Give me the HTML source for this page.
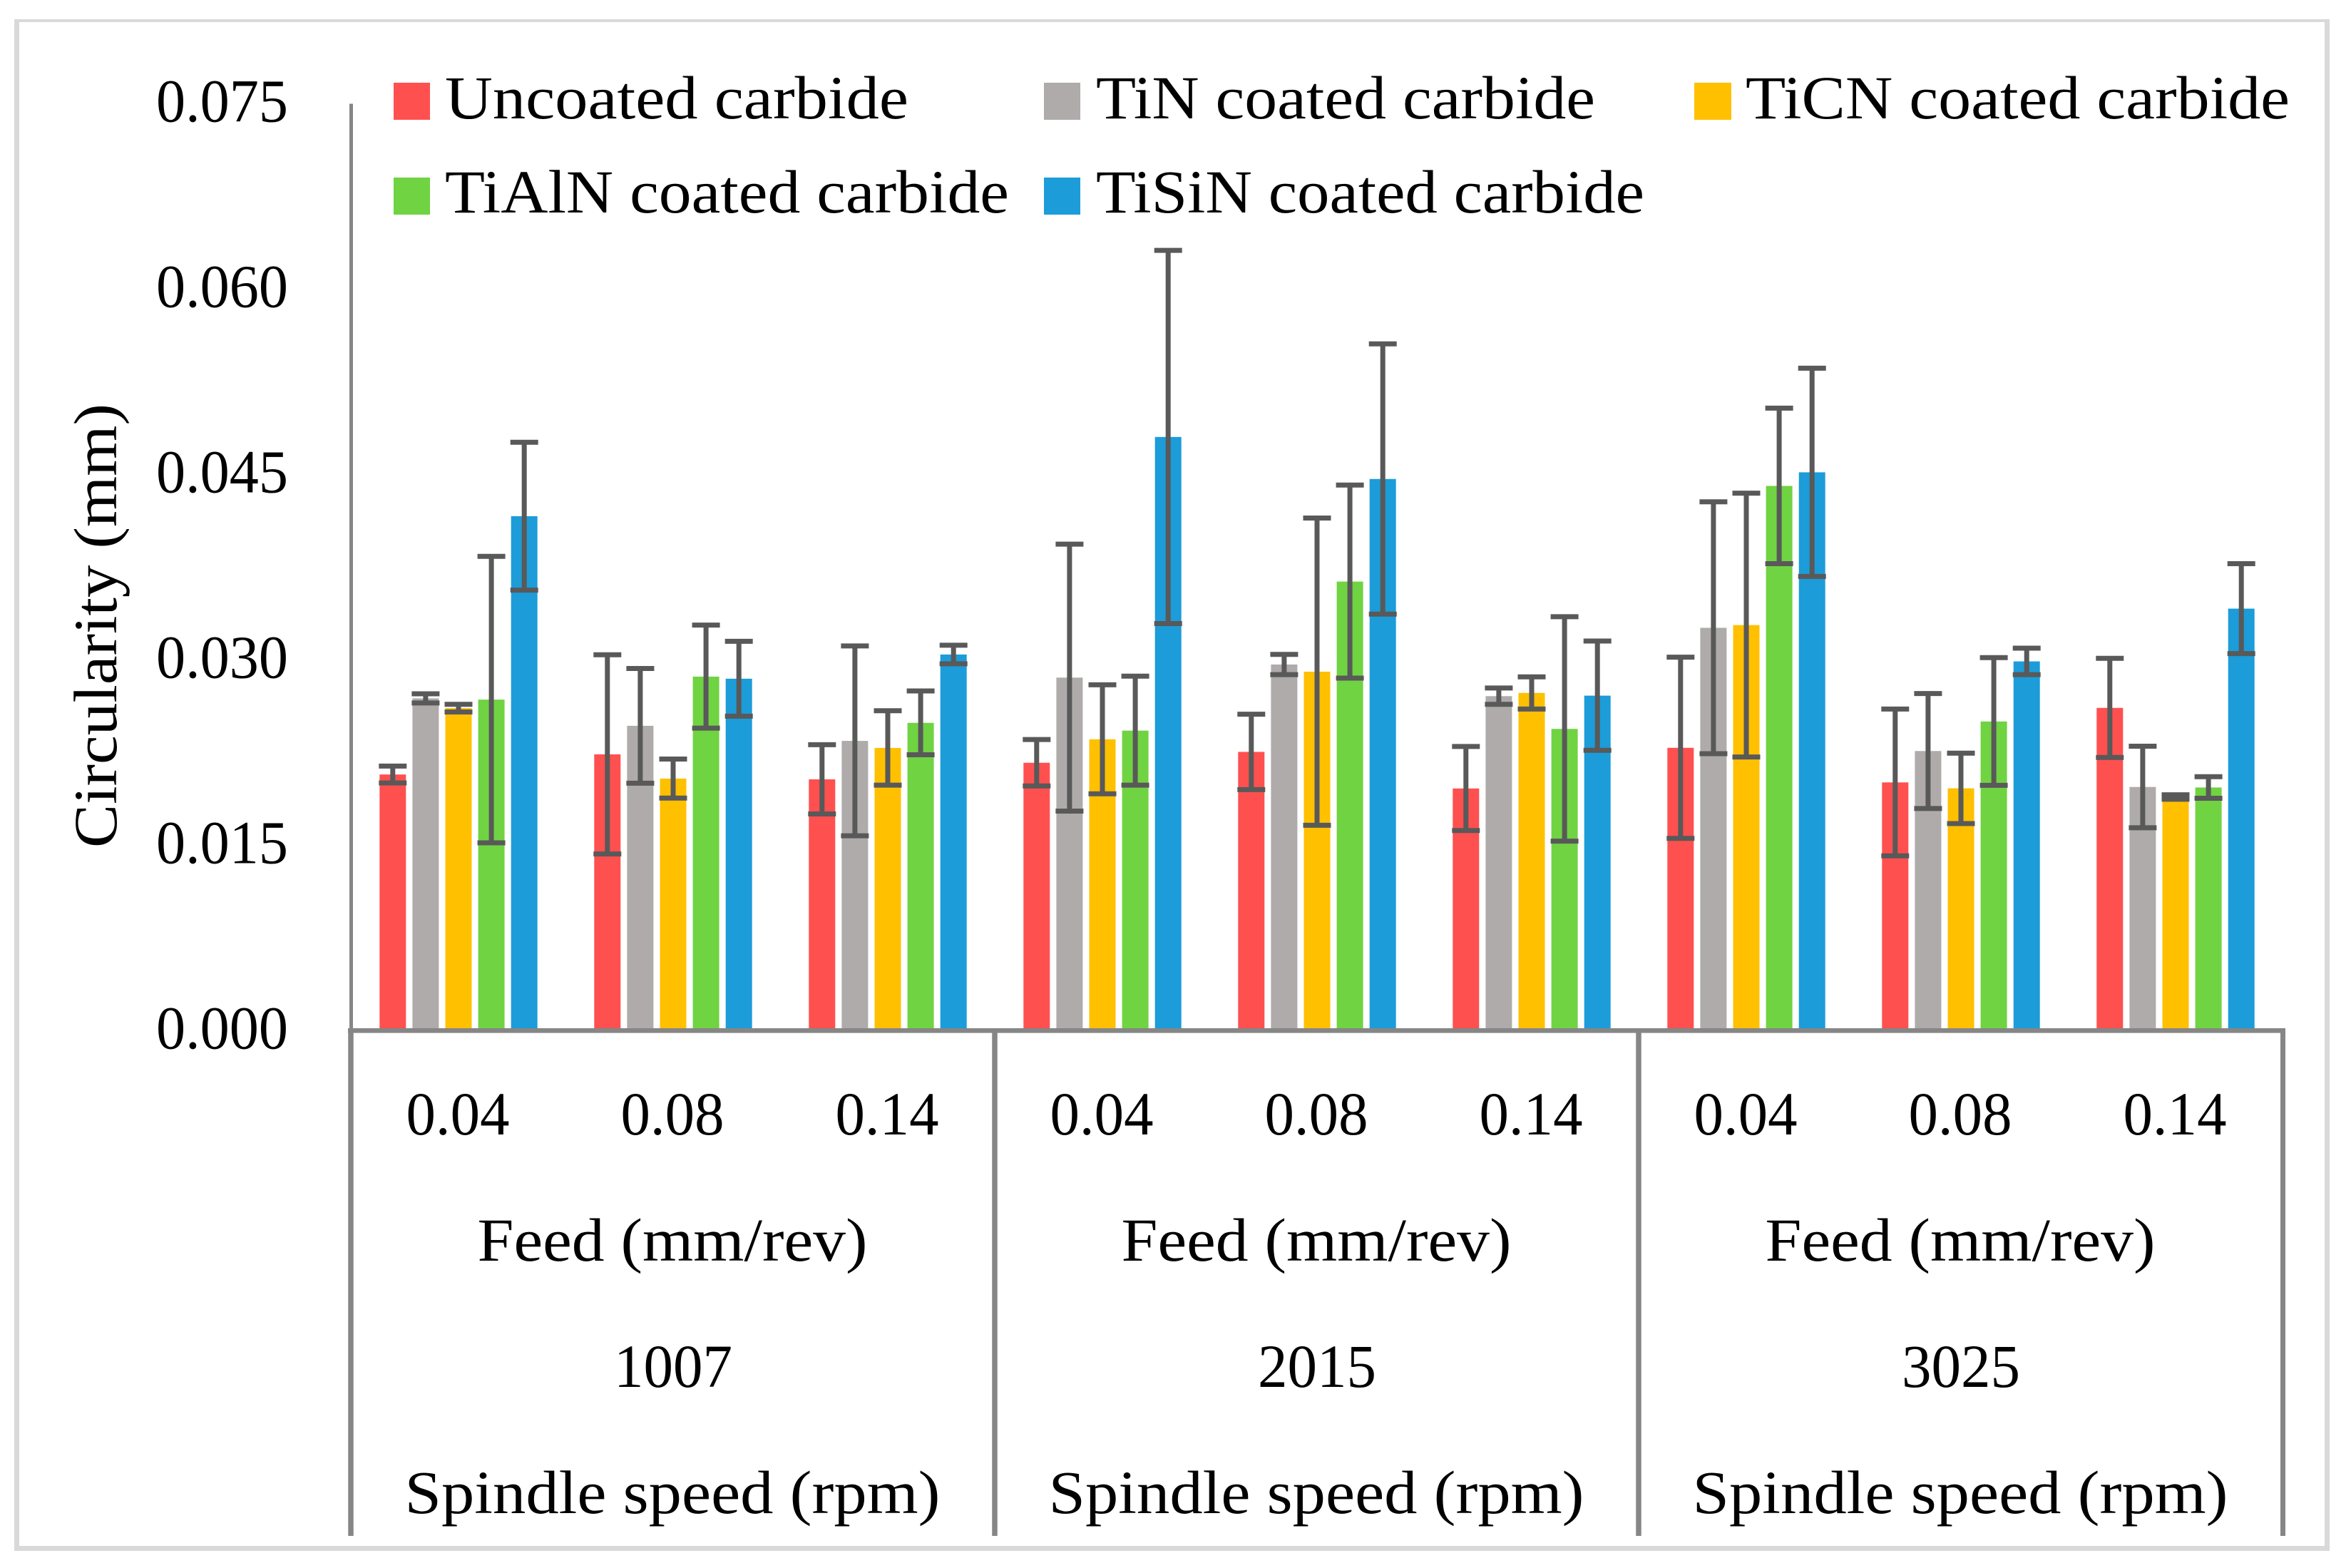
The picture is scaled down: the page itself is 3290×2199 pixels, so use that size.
<!DOCTYPE html>
<html lang="en">
<head>
<meta charset="utf-8">
<title>Circularity by coating, feed and spindle speed</title>
<style>
html,body{margin:0;padding:0;background:#fff;}
svg{display:block;}
text{font-family:"Liberation Serif",serif;fill:#000;font-size:86px;}
</style>
</head>
<body>
<svg id="chart" xmlns="http://www.w3.org/2000/svg" width="3290" height="2199" viewBox="0 0 3290 2199">
  <rect x="0" y="0" width="3290" height="2199" fill="#ffffff"/>
  <g fill="#d9d9d9">
    <rect x="20" y="27" width="7" height="2148"/>
    <rect x="3260" y="27" width="7" height="2148"/>
    <rect x="20" y="27" width="3247" height="4"/>
    <rect x="20" y="2168" width="3247" height="7"/>
  </g>
  <g id="bars"></g>
  <g id="errors"></g>
  <g id="axes"></g>
  <text transform="translate(163 1189) rotate(-90)" textLength="623" lengthAdjust="spacingAndGlyphs">Circularity (mm)</text>
  <g>
    <g>
      <rect x="552" y="116" width="51" height="52" fill="#ff5050"/>
      <text x="624" y="166" textLength="650" lengthAdjust="spacingAndGlyphs">Uncoated carbide</text>
    </g>
    <g>
      <rect x="1464" y="116" width="51" height="52" fill="#afabab"/>
      <text x="1537" y="166" textLength="700" lengthAdjust="spacingAndGlyphs">TiN coated carbide</text>
    </g>
    <g>
      <rect x="2376" y="116" width="52" height="52" fill="#ffc000"/>
      <text x="2448" y="166" textLength="763" lengthAdjust="spacingAndGlyphs">TiCN coated carbide</text>
    </g>
    <g>
      <rect x="552" y="249" width="51" height="52" fill="#70d342"/>
      <text x="624" y="298" textLength="791" lengthAdjust="spacingAndGlyphs">TiAlN coated carbide</text>
    </g>
    <g>
      <rect x="1464" y="249" width="51" height="52" fill="#1c9cd9"/>
      <text x="1537" y="298" textLength="769" lengthAdjust="spacingAndGlyphs">TiSiN coated carbide</text>
    </g>
  </g>
</svg>
<script>
const yTicks = ["0.000", "0.015", "0.030", "0.045", "0.060", "0.075"];
const feedLabels = ["0.04", "0.08", "0.14"];
const spindleLabels = ["1007", "2015", "3025"];
const seriesNames = ["uncoated", "tin", "ticn", "tialn", "tisin"];
const seriesColors = ["#ff5050", "#afabab", "#ffc000", "#70d342", "#1c9cd9"];
const uncoated = [0.02073, 0.02236, 0.02034, 0.02168, 0.02256, 0.01960, 0.02289, 0.02009, 0.02612];
const tin = [0.02689, 0.02467, 0.02345, 0.02857, 0.02963, 0.02707, 0.03260, 0.02263, 0.01972];
const ticn = [0.02610, 0.02040, 0.02288, 0.02358, 0.02905, 0.02733, 0.03282, 0.01961, 0.01891];
const tialn = [0.02679, 0.02865, 0.02491, 0.02428, 0.03634, 0.02442, 0.04408, 0.02502, 0.01968];
const tisin = [0.04163, 0.02848, 0.03044, 0.04804, 0.04464, 0.02711, 0.04518, 0.02988, 0.03415];
const uncoatedErr = [0.00068, 0.00806, 0.00280, 0.00188, 0.00305, 0.00340, 0.00733, 0.00594, 0.00401];
const tinErr = [0.00037, 0.00464, 0.00768, 0.01080, 0.00082, 0.00066, 0.01019, 0.00465, 0.00330];
const ticnErr = [0.00031, 0.00158, 0.00301, 0.00441, 0.01243, 0.00130, 0.01067, 0.00285, 0.00018];
const tialnErr = [0.01159, 0.00417, 0.00258, 0.00441, 0.00781, 0.00908, 0.00629, 0.00517, 0.00087];
const tisinErr = [0.00598, 0.00303, 0.00075, 0.01510, 0.01093, 0.00442, 0.00842, 0.00107, 0.00364];

const seriesValues = [uncoated, tin, ticn, tialn, tisin];
const seriesErrors = [uncoatedErr, tinErr, ticnErr, tialnErr, tisinErr];

const NS = "http://www.w3.org/2000/svg";
const axisLeft = 492.5, catStep = 301, baseY = 1445.5, axisBottom = 2154;
const yMax = 0.075, plotHeight = 1300;
const barStep = 46.1, barWidth = 37, capWidth = 39, errColor = "#595959", axisColor = "#868686";

function yScale(v) { return baseY - (v / yMax) * plotHeight; }
function catCenter(c) { return axisLeft + (c + 0.5) * catStep; }
function barCenter(c, s) { return catCenter(c) + (s - 2) * barStep; }
function make(tag, parent, attrs) {
  const el = document.createElementNS(NS, tag);
  for (const k in attrs) el.setAttribute(k, attrs[k]);
  parent.appendChild(el);
  return el;
}

const barsG = document.getElementById("bars");
const errG = document.getElementById("errors");
const axesG = document.getElementById("axes");

seriesValues.forEach(function (vals, s) {
  vals.forEach(function (v, c) {
    const top = yScale(v);
    const bar = make("rect", barsG, { x: barCenter(c, s) - barWidth / 2, y: top, width: barWidth, height: baseY - top, fill: seriesColors[s] });
    
    

    const e = seriesErrors[s][c];
    const cx = barCenter(c, s);
    const hi = yScale(v + e), lo = yScale(v - e);
    const stem = make("line", errG, { x1: cx, x2: cx, y1: hi, y2: lo, stroke: errColor, "stroke-width": 7 });
    
    
    const capHi = make("line", errG, { x1: cx - capWidth / 2, x2: cx + capWidth / 2, y1: hi, y2: hi, stroke: errColor, "stroke-width": 7 });
    
    
    const capLo = make("line", errG, { x1: cx - capWidth / 2, x2: cx + capWidth / 2, y1: lo, y2: lo, stroke: errColor, "stroke-width": 7 });
    
    
  });
});

const yAxis = make("line", axesG, { x1: axisLeft, x2: axisLeft, y1: yScale(yMax), y2: baseY, stroke: axisColor, "stroke-width": 5 });


const xAxis = make("line", axesG, { x1: axisLeft - 4.5, x2: axisLeft + 9 * catStep + 3.5, y1: 1445.3, y2: 1445.3, stroke: axisColor, "stroke-width": 6.7 });



yTicks.forEach(function (t) {
  const label = make("text", axesG, { x: 219, y: yScale(parseFloat(t)) + 25, textLength: 185, lengthAdjust: "spacingAndGlyphs" });
  label.textContent = t;
  
  
});

spindleLabels.forEach(function (sp, g) {
  const groupLeft = axisLeft + g * 3 * catStep;
  const groupMid = groupLeft + 1.5 * catStep;
  const sep = make("line", axesG, { x1: groupLeft - 0.5, x2: groupLeft - 0.5, y1: baseY, y2: axisBottom, stroke: axisColor, "stroke-width": 7.5 });
  
  

  feedLabels.forEach(function (f, i) {
    const cat = make("text", axesG, { x: catCenter(g * 3 + i) - 1, y: 1591, "text-anchor": "middle", textLength: 145, lengthAdjust: "spacingAndGlyphs" });
    cat.textContent = f;
    
    
  });

  const feedTitle = make("text", axesG, { x: groupMid - 1, y: 1768, "text-anchor": "middle", textLength: 547, lengthAdjust: "spacingAndGlyphs" });
  feedTitle.textContent = "Feed (mm/rev)";
  
  

  const spLabel = make("text", axesG, { x: groupMid, y: 1945, "text-anchor": "middle", textLength: 166, lengthAdjust: "spacingAndGlyphs" });
  spLabel.textContent = sp;
  
  

  const spTitle = make("text", axesG, { x: groupMid - 1, y: 2122, "text-anchor": "middle", textLength: 751, lengthAdjust: "spacingAndGlyphs" });
  spTitle.textContent = "Spindle speed (rpm)";
  
  
});

const endSep = make("line", axesG, { x1: axisLeft + 9 * catStep, x2: axisLeft + 9 * catStep, y1: baseY, y2: axisBottom, stroke: axisColor, "stroke-width": 7 });


</script>
</body>
</html>
